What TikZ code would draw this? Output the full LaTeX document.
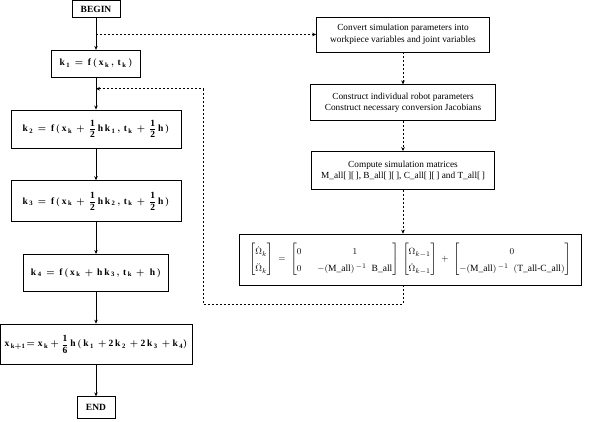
\documentclass[tikz,border=0pt]{standalone}
\usepackage{amsmath}
\usepackage{fontspec}
\setmainfont{Liberation Serif}
\setmathrm{Liberation Serif}
\setboldmathrm{Liberation Serif Bold}
\usetikzlibrary{positioning,arrows.meta,calc}

\begin{document}
\begin{tikzpicture}[x=1pt,y=1pt,>={Stealth[length=4pt,width=3.5pt]},node distance=32pt,
  stepbox/.style={draw,line width=0.7pt,align=center,inner sep=2pt,
    font=\fontsize{9.5}{11}\selectfont\bfseries\boldmath},
  taskbox/.style={draw,line width=0.7pt,align=center,inner sep=2pt,
    font=\fontsize{9.3}{11.5}\selectfont},
  flow/.style={->,line width=0.7pt},
  link/.style={->,line width=0.6pt,dash pattern=on 2pt off 2pt}]
\useasboundingbox (0,0) rectangle (597,-422);
% Runge-Kutta steps
\node[stepbox,minimum width=48pt,minimum height=17pt] (begin) at (96,-9) {BEGIN};
\node[stepbox,below=of begin,minimum width=89pt,minimum height=27pt] (k1)
  {$\mathrm{k_{\,1}\,=\,f\,(\,x_{\,k}\,,\,t_{\,k}\,)}$};
\node[stepbox,below=of k1,minimum width=170pt,minimum height=38pt] (k2)
  {$\mathrm{k_{\,2}\,=\,f\,(\,x_{\,k}\,+\,\dfrac{1}{2}\,h\,k_{\,1}\,,\,t_{\,k}\,+\,\dfrac{1}{2}\,h\,)}$};
\node[stepbox,below=of k2,minimum width=170pt,minimum height=41pt] (k3)
  {$\mathrm{k_{\,3}\,=\,f\,(\,x_{\,k}\,+\,\dfrac{1}{2}\,h\,k_{\,2}\,,\,t_{\,k}\,+\,\dfrac{1}{2}\,h\,)}$};
\node[stepbox,below=of k3,minimum width=145pt,minimum height=37pt] (k4)
  {$\mathrm{k_{\,4}\,=\,f\,(\,x_{\,k}\,+\,h\,k_{\,3}\,,\,t_{\,k}\,+\;h\,)}$};
\node[stepbox,below=of k4,minimum width=192pt,minimum height=40pt] (xk)
  {$\mathrm{x_{\,k+1}\!=x_{\,k}+\dfrac{1}{6}\,h\,(\,k_{\,1}\,+2\,k_{\,2}\,+2\,k_{\,3}\,+k_{\,4})}$};
\node[stepbox,below=of xk,minimum width=38pt,minimum height=22pt] (end) {END};
% simulation matrices
\node[taskbox,minimum width=173pt,minimum height=35pt] (conv) at (403,-34.5)
  {Convert simulation parameters into\\workpiece variables and joint variables};
\node[taskbox,below=32pt of conv,minimum width=185pt,minimum height=36pt] (robot)
  {Construct individual robot parameters\\Construct necessary conversion Jacobians};
\node[taskbox,below=30pt of robot,minimum width=183pt,minimum height=38pt] (comp)
  {Compute simulation matrices\\M\_all[\,][\,], B\_all[\,][\,], C\_all[\,][\,] and T\_all[\,]};
\node[taskbox,below=44pt of comp,xshift=7pt,minimum width=342pt,minimum height=51pt,
  font=\fontsize{9.5}{11}\selectfont] (eq)
  {\renewcommand{\arraystretch}{1.6}\setlength{\arraycolsep}{8pt}%
   $\begin{bmatrix}\dot{\Omega}_k\\ \ddot{\Omega}_k\end{bmatrix}
   \;=\; \begin{bmatrix}0 & 1\\ 0 & -(\text{M\_all})^{\,-1}\;\;\text{B\_all}\end{bmatrix}
   \;\begin{bmatrix}\Omega_{k-1}\\ \dot{\Omega}_{k-1}\end{bmatrix}
   \;+\; \begin{bmatrix}0\\ -(\text{M\_all})^{\,-1}\;\;(\text{T\_all-C\_all})\end{bmatrix}$};
% connectors
\draw[flow] (begin) -- (k1);
\draw[flow] (k1) -- (k2);
\draw[flow] (k2) -- (k3);
\draw[flow] (k3) -- (k4);
\draw[flow] (k4) -- (xk);
\draw[flow] (xk) -- (end);
\coordinate (split) at (begin.south |- conv.west);
\draw[link] (split) -- (conv.west);
\draw[link] (conv) -- (robot);
\draw[link] (robot) -- (comp);
\draw[link] (comp.south) -- (comp.south |- eq.north);
\coordinate (back) at ($(k1.south)!0.35!(k2.north)$);
\coordinate (turn) at (203,-304);
\draw[link] (comp.south |- eq.south) |- (turn) |- (back);
\end{tikzpicture}
\end{document}
